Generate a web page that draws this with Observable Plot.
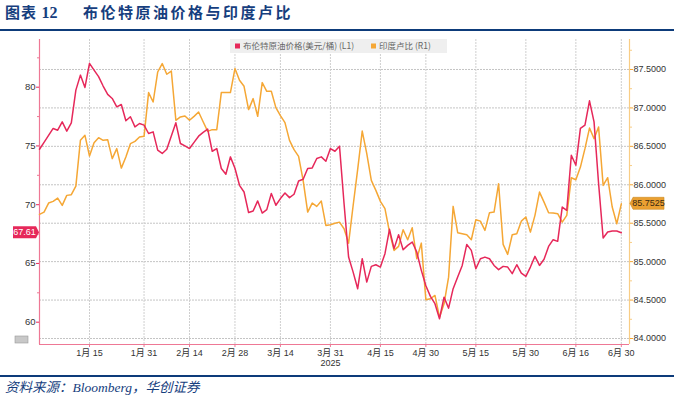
<!DOCTYPE html>
<html>
<head>
<meta charset="utf-8">
<script src="https://cdn.jsdelivr.net/npm/d3@7"></script>
<script src="https://cdn.jsdelivr.net/npm/@observablehq/plot@0.6"></script>
<style>
  body { margin: 0; background: #fff; width: 674px; height: 398px; overflow: hidden; font-family: "Noto Sans CJK SC", sans-serif; }
  #title { position: relative; height: 29px; border-bottom: 2px solid #0d3b7a; }
  #title .a { position: absolute; left: 5px; top: 2px; font-size: 15px; line-height: 19px; font-weight: 700; color: #163e7e; letter-spacing: 1px; }
  #title .a b { font-family: "Liberation Serif", serif; font-size: 16px; letter-spacing: 0; }
  #title .b { position: absolute; left: 83px; top: 2px; font-size: 15px; line-height: 19px; font-weight: 700; color: #163e7e; letter-spacing: 2.5px; }
  #chart { height: 344px; }
  #chart svg { display: block; }
  #foot { border-top: 2px solid #0d3b7a; height: 21px; line-height: 21px; padding-left: 5px; font-size: 13.5px; font-style: italic; color: #163e7e; font-family: "Liberation Serif", "Noto Sans CJK SC", serif; }
</style>
</head>
<body>
<div id="title"><span class="a">图表 <b>12</b></span><span class="b">布伦特原油价格与印度卢比</span></div>
<div id="chart"></div>
<div id="foot">资料来源：Bloomberg，华创证券</div>
<script>
// ---- data ----
const startDate = "2024-12-30";
const endDate = "2025-07-04";
const holidays = ["2025-01-01", "2025-04-18"];

const tickDates = ["2025-01-15","2025-01-31","2025-02-14","2025-02-28","2025-03-14","2025-03-31","2025-04-15","2025-04-30","2025-05-15","2025-05-30","2025-06-16","2025-06-30"];
const tickLabels = ["1月 15","1月 31","2月 14","2月 28","3月 14","3月 31","4月 15","4月 30","5月 15","5月 30","6月 16","6月 30"];
const yearLabel = "2025";
const yearLabelDate = "2025-03-31";

// Brent crude price, USD/bbl (left axis), one value per trading day
const brent = [
  74.72,75.3,75.9,76.49,76.34,77.05,76.26,76.97,79.75,81.03,
  79.98,82.03,81.46,80.9,80.1,79.39,79.04,78.33,78.53,77.14,
  77.48,76.62,76.91,76.77,76.06,76.2,74.64,74.36,74.72,75.85,
  76.97,75.21,75.0,74.78,75.3,75.83,76.15,76.43,74.55,74.78,
  73.08,72.59,74.07,73.1,71.65,71.08,69.33,69.46,70.32,69.29,
  69.58,70.95,69.95,70.52,71.0,70.6,70.89,72.02,72.17,73.08,
  73.13,73.93,74.07,73.7,74.78,74.55,74.98,70.1,65.54,64.26,
  62.85,65.4,63.41,64.75,64.89,64.69,65.83,67.9,66.26,67.45,
  66.17,66.54,66.82,65.97,64.41,63.1,62.2,61.57,60.29,62.13,
  61.19,62.85,63.84,64.83,66.62,66.11,64.55,65.4,65.54,65.4,
  64.83,64.47,64.75,64.69,64.13,64.89,64.18,63.9,64.69,65.6,
  64.83,65.35,66.45,67.02,66.88,69.8,69.52,74.21,73.36,76.49,
  76.77,78.84,77.05,71.8,67.16,67.67,67.76,67.76,67.61
];
// USD/INR (right axis), one value per trading day
const inr = [
  85.615,85.645,85.762,85.784,85.827,85.732,85.862,85.871,85.983,86.578,
  86.643,86.374,86.548,86.613,86.578,86.587,86.34,86.47,86.217,86.361,
  86.535,86.565,86.621,86.63,87.199,87.077,87.467,87.577,87.438,87.48,
  86.839,86.882,86.895,86.839,86.89,86.947,86.82,86.695,86.717,86.717,
  87.199,87.199,87.199,87.512,87.359,87.281,86.978,87.121,86.891,87.329,
  87.216,87.216,87.004,86.9,86.809,86.578,86.457,86.37,86.057,85.645,
  85.762,85.719,85.788,85.471,85.48,85.5,85.514,85.428,85.241,85.73,
  86.2,86.699,86.405,86.057,85.927,85.784,85.689,85.384,85.146,85.198,
  85.415,85.285,85.441,85.038,85.241,84.504,84.517,84.56,84.277,84.452,
  84.798,85.719,85.376,85.363,85.35,85.285,85.545,85.527,85.406,85.637,
  85.645,86.014,85.224,85.094,85.35,85.363,85.527,85.58,85.384,85.602,
  85.905,85.775,85.637,85.632,85.624,85.514,85.602,86.092,86.066,86.23,
  86.47,86.738,86.6,86.751,85.992,86.092,85.71,85.493,85.7525
];

const leftTicks = [60, 65, 70, 75, 80];
const leftMinor = [62.5, 67.5, 72.5, 77.5, 82.5];
const rightTicks = [84.0, 84.5, 85.0, 85.5, 86.0, 86.5, 87.0, 87.5];
const rightMinor = [84.25, 84.75, 85.25, 85.75, 86.25, 86.75, 87.25, 87.75];
const legendLabels = ["布伦特原油价格(美元/桶) (L1)", "印度卢比 (R1)"];
const lastBrentLabel = "67.61";
const lastInrLabel = "85.7525";

// ---- scales ----
const leftDomain = [58.10, 84.06];
const rightDomain = [83.922, 87.89];
const toL = r => leftDomain[0] + (r - rightDomain[0]) * (leftDomain[1] - leftDomain[0]) / (rightDomain[1] - rightDomain[0]);
const fromL = l => rightDomain[0] + (l - leftDomain[0]) * (rightDomain[1] - rightDomain[0]) / (leftDomain[1] - leftDomain[0]);

const fmt = d3.timeFormat("%Y-%m-%d");
const parse = d3.timeParse("%Y-%m-%d");
const tradingDays = d3.timeDay.range(parse(startDate), parse(endDate))
  .filter(d => d.getDay() !== 0 && d.getDay() !== 6 && !holidays.includes(fmt(d)));
const dayIndex = new Map(tradingDays.map((d, i) => [fmt(d), i]));
const tickIdx = tickDates.map(s => dayIndex.get(s));
const tickLabelOf = new Map(tickIdx.map((i, k) => [i, tickLabels[k]]));

const brentData = brent.map((v, i) => ({i, date: tradingDays[i], v}));
const inrData = inr.map((v, i) => ({i, date: tradingDays[i], v}));

const RED = "#e6285a";
const ORANGE = "#f5a735";
const xMax = 129.8;

const chart = Plot.plot({
  width: 674,
  height: 344,
  marginTop: 8,
  marginBottom: 31,
  marginLeft: 39,
  marginRight: 45,
  style: {background: "white", fontFamily: '"Liberation Sans", "Noto Sans CJK SC", sans-serif', fontSize: "9px", color: "#333", overflow: "visible"},
  x: {type: "linear", domain: [0, xMax], axis: null},
  y: {domain: leftDomain, axis: null},
  marks: [
    Plot.gridY(rightTicks.map(toL), {stroke: "#c4c4c4", strokeOpacity: 1, strokeDasharray: "2,1"}),
    Plot.gridX(tickIdx, {stroke: "#cfcfcf", strokeOpacity: 1, strokeDasharray: "2,1"}),
    Plot.ruleX([0], {stroke: "#ee7895", strokeWidth: 1.2}),
    Plot.ruleX([xMax], {stroke: "#f8cd85", strokeWidth: 1.2}),
    Plot.ruleY([leftDomain[0]], {stroke: "#ee7895", strokeWidth: 1.2}),
    Plot.axisY(leftTicks, {anchor: "left", label: null, tickSize: 3, tickPadding: 1, stroke: RED, fill: "#333", fontSize: 9.5}),
    Plot.axisY(leftMinor, {anchor: "left", label: null, tickSize: 2, stroke: "#ee7895", tickFormat: () => ""}),
    Plot.axisY(rightTicks.map(toL), {anchor: "right", label: null, tickSize: 3, tickPadding: 1, stroke: ORANGE, fill: "#333", tickFormat: d => fromL(d).toFixed(4)}),
    Plot.axisY(rightMinor.map(toL), {anchor: "right", label: null, tickSize: 2, stroke: "#f8cd85", tickFormat: () => ""}),
    Plot.axisX(tickIdx, {anchor: "bottom", label: null, tickSize: 3, tickPadding: 2, stroke: "#ee7895", fill: "#333", tickFormat: i => tickLabelOf.get(i)}),
    Plot.text([yearLabel], {x: () => dayIndex.get(yearLabelDate), frameAnchor: "bottom", dy: 21, fill: "#333"}),
    Plot.lineY(inrData, {x: "i", y: d => toL(d.v), stroke: ORANGE, strokeWidth: 1.5}),
    Plot.lineY(brentData, {x: "i", y: "v", stroke: RED, strokeWidth: 1.5})
  ]
});

document.getElementById("chart").append(chart);

// ---- overlays: legend, last-value labels ----
const svg = d3.select(chart);
const yS = chart.scale("y");
const xS = chart.scale("x");
const x0 = xS.apply(0), x1 = xS.apply(xMax);

// legend
const lg = svg.append("g").attr("font-family", '"Noto Sans CJK SC", sans-serif').attr("font-size", 8.5).attr("fill", "#666").attr("text-anchor", "start");
lg.append("rect").attr("x", 230).attr("y", 8).attr("width", 217).attr("height", 14).attr("fill", "#efefef");
lg.append("rect").attr("x", 235).attr("y", 12.5).attr("width", 5).attr("height", 5).attr("fill", RED);
lg.append("text").attr("x", 243).attr("y", 15).attr("dy", "0.35em").text(legendLabels[0]);
lg.append("rect").attr("x", 371).attr("y", 12.5).attr("width", 5).attr("height", 5).attr("fill", ORANGE);
lg.append("text").attr("x", 379).attr("y", 15).attr("dy", "0.35em").text(legendLabels[1]);

// last value tags
const yb = yS.apply(brent[brent.length - 1]);
svg.append("path")
  .attr("d", `M${x0 - 26},${yb - 6}H${x0 - 3}L${x0},${yb}L${x0 - 3},${yb + 6}H${x0 - 26}Z`)
  .attr("fill", RED);
svg.append("text").attr("x", x0 - 14.5).attr("y", yb).attr("dy", "0.35em").attr("text-anchor", "middle")
  .attr("fill", "white").attr("font-size", 9).attr("font-family", '"Liberation Sans", sans-serif').text(lastBrentLabel);

const yi = yS.apply(toL(inr[inr.length - 1]));
svg.append("path")
  .attr("d", `M${x1 + 1},${yi}L${x1 + 4},${yi - 6}H${x1 + 35}V${yi + 6}H${x1 + 4}Z`)
  .attr("fill", "#eaa032").attr("stroke", "#c98a20").attr("stroke-width", 0.6);
svg.append("text").attr("x", x1 + 19.5).attr("y", yi).attr("dy", "0.35em").attr("text-anchor", "middle")
  .attr("fill", "#3a2a10").attr("font-size", 9).attr("font-family", '"Liberation Sans", sans-serif').text(lastInrLabel);

// small bloomberg icon
svg.append("rect").attr("x", 15).attr("y", yS.apply(leftDomain[0]) - 8).attr("width", 13).attr("height", 7)
  .attr("fill", "#c8c8c8").attr("stroke", "#999").attr("stroke-width", 0.6);
</script>
</body>
</html>
